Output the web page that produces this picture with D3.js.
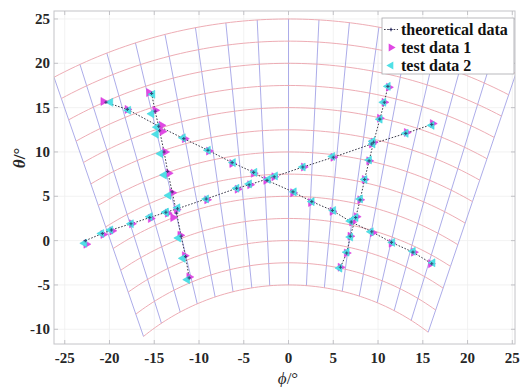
<!DOCTYPE html>
<html><head><meta charset="utf-8">
<script src="https://cdn.jsdelivr.net/npm/d3@7"></script>
<style>body{margin:0;background:#fff}svg{display:block}
.sf{font-family:'Liberation Serif','DejaVu Serif',serif}</style>
</head><body><svg id="c" width="520" height="387"></svg>
<script>
// ---------- tick labels ----------
const xTicks = [-25,-20,-15,-10,-5,0,5,10,15,20,25];
const yTicks = [-10,-5,0,5,10,15,20,25];

// ---------- background grid (arcs of constant level, fan lines) ----------
const arcTheta0 = [-5,-2.5,0,2.5,5,7.5,10,12.5,15,17.5,20,22.5,25];
const fanBottomPhi = [-16.2,-14.2,-12.1,-10.2,-8.2,-6.2,-4.1,-2.1,0,2.0,4.0,6.0,7.9,9.9,11.8,13.7,15.6];
const fanTopPhi = [-26.2,-23.3,-20.3,-17.1,-13.8,-10.4,-7.0,-3.5,0,3.4,6.8,10.1,13.4,16.6,19.7,22.6,25.4];
const arcCenterDepth = 30.5;

// ---------- theoretical data (4 scan lines) ----------
const theoA_phi = [-20.4,-18.0,-14.5,-11.7,-9.0,-6.3,-3.9,-2.4,0.5,2.6,4.9,7.0,9.3,11.5,13.9,16.0];
const theoA_theta = [15.6,14.8,12.9,11.5,10.2,8.8,7.7,6.8,5.5,4.4,3.4,2.1,1.0,-0.2,-1.3,-2.6];
const theoB_phi = [-22.7,-20.8,-19.8,-17.6,-15.5,-13.7,-12.4,-9.2,-5.8,-4.4,-1.6,1.6,5.0,9.3,13.1,16.0];
const theoB_theta = [0.0,0.8,1.2,1.9,2.6,3.2,3.6,4.7,5.9,6.3,7.2,8.3,9.4,10.9,12.1,13.1];
const theoC_phi = [-15.3,-14.9,-14.4,-13.9,-13.5,-13.0,-12.5,-12.0,-11.5,-11.1];
const theoC_theta = [16.6,14.6,12.4,10.0,7.8,5.5,3.1,0.5,-1.8,-4.2];
const theoD_phi = [11.1,10.7,10.2,9.5,9.0,8.5,8.0,7.5,6.9,6.5,5.8];
const theoD_theta = [17.4,15.6,13.7,11.1,9.0,6.9,4.6,2.6,0.5,-1.4,-3.0];

// ---------- test data 1 ----------
const t1A_phi = [-20.7,-18.0,-14.2,-11.6,-8.9,-6.3,-3.9,-2.5,0.5,2.5,4.9,7.1,9.4,11.5,14.0,15.9];
const t1A_theta = [15.7,14.8,13.0,11.5,10.1,8.7,7.6,6.8,5.4,4.3,3.3,2.1,0.9,-0.3,-1.3,-2.6];
const t1B_phi = [-22.6,-20.7,-19.7,-17.5,-15.4,-13.5,-12.5,-9.1,-5.7,-4.3,-1.6,1.7,5.0,9.3,13.2,16.1];
const t1B_theta = [-0.4,0.7,1.1,1.9,2.5,3.1,3.5,4.6,5.8,6.3,7.2,8.3,9.4,10.9,12.2,13.2];
const t1C_phi = [-15.6,-14.9,-14.1,-13.8,-13.4,-13.0,-12.9,-12.1,-11.6,-11.1];
const t1C_theta = [16.7,14.7,12.3,10.0,7.6,5.4,2.6,0.6,-1.7,-4.1];
const t1D_phi = [11.2,10.7,10.2,9.5,9.0,8.5,8.0,7.6,6.9,6.5,5.8];
const t1D_theta = [17.3,15.6,13.8,11.1,9.0,6.9,4.6,2.7,0.5,-1.4,-3.0];

// ---------- test data 2 ----------
const t2A_phi = [-19.9,-17.9,-14.7,-11.8,-9.0,-6.2,-3.8,-2.3,0.6,2.6,5.0,6.9,9.2,11.6,13.9,16.1];
const t2A_theta = [15.6,14.7,12.8,11.6,10.2,8.8,7.7,6.9,5.5,4.4,3.4,2.2,1.0,-0.2,-1.2,-2.5];
const t2B_phi = [-22.8,-20.9,-19.9,-17.6,-15.5,-13.7,-12.4,-9.2,-5.8,-4.4,-1.5,1.6,4.9,9.4,13.1,16.0];
const t2B_theta = [-0.3,0.8,1.2,1.9,2.7,3.2,3.7,4.7,5.9,6.4,7.3,8.3,9.5,10.9,12.1,13.0];
const t2C_phi = [-15.2,-15.3,-14.8,-14.3,-13.9,-13.4,-13.7,-12.3,-11.8,-11.3];
const t2C_theta = [16.5,14.3,12.0,9.8,7.4,5.1,3.2,0.3,-2.0,-4.4];
const t2D_phi = [11.1,10.6,10.2,9.4,9.0,8.5,8.0,7.5,6.9,6.5,5.7];
const t2D_theta = [17.4,15.6,13.7,11.2,9.1,6.9,4.7,2.6,0.4,-1.3,-3.1];

// =====================================================
const svg = d3.select('#c');
const L = 54, R = 515, T = 11, B = 344;
const x = d3.scaleLinear().domain([-26.2, 25.3]).range([L, R]);
const y = d3.scaleLinear().domain([-11.66, 25.9]).range([B, T]);

svg.append('rect').attr('x',0).attr('y',0).attr('width',520).attr('height',387).attr('fill','#fff');
svg.append('defs').append('clipPath').attr('id','clip')
  .append('rect').attr('x',L).attr('y',T).attr('width',R-L).attr('height',B-T);

// faint axis grid
const gGrid = svg.append('g');
gGrid.selectAll('.vx').data(xTicks).join('line')
  .attr('x1',d=>x(d)).attr('x2',d=>x(d)).attr('y1',T).attr('y2',B)
  .attr('stroke','#efefef').attr('stroke-width',0.8);
gGrid.selectAll('.hy').data(yTicks).join('line')
  .attr('y1',d=>y(d)).attr('y2',d=>y(d)).attr('x1',L).attr('x2',R)
  .attr('stroke','#efefef').attr('stroke-width',0.8);

// fan grid construction
const C = arcCenterDepth;
const nA = arcTheta0.length, nF = fanBottomPhi.length;
const radius = i => C + arcTheta0[i];
const arcY = (i, px) => -C + Math.sqrt(radius(i)*radius(i) - px*px);
const nodes = arcTheta0.map(()=>[]);
for (let k=0;k<nF;k++){
  const bx = fanBottomPhi[k], by = arcY(0,bx);
  const tx = fanTopPhi[k], ty = arcY(nA-1,tx);
  const dx = tx-bx, dy = ty-by;
  const fx = bx, fy = by + C;
  for (let i=0;i<nA;i++){
    const a = dx*dx+dy*dy, b = 2*(fx*dx+fy*dy), c = fx*fx+fy*fy-radius(i)*radius(i);
    const t = (-b + Math.sqrt(b*b-4*a*c))/(2*a);
    nodes[i][k] = [bx+t*dx, by+t*dy];
  }
}
const gFan = svg.append('g').attr('clip-path','url(#clip)');
const line = d3.line().x(d=>x(d[0])).y(d=>y(d[1]));
for (let k=0;k<nF;k++){
  gFan.append('path').attr('d', line(nodes.map(r=>r[k])))
    .attr('fill','none').attr('stroke','#a3a3e6').attr('stroke-width',0.9);
}
for (let i=0;i<nA;i++){
  const r = radius(i);
  const p0 = nodes[i][0], p1 = nodes[i][nF-1];
  const a0 = Math.atan2(p0[1]+C, p0[0]), a1 = Math.atan2(p1[1]+C, p1[0]);
  const pts = d3.range(0,81).map(j=>{const a=a0+(a1-a0)*j/80; return [r*Math.cos(a), -C+r*Math.sin(a)];});
  gFan.append('path').attr('d', line(pts))
    .attr('fill','none').attr('stroke','#eba3ab').attr('stroke-width',0.9);
}

// axes box and ticks
svg.append('rect').attr('x',L).attr('y',T).attr('width',R-L).attr('height',B-T)
  .attr('fill','none').attr('stroke','#c4c4c8').attr('stroke-width',1);
const gT = svg.append('g').attr('stroke','#b8b8bc').attr('stroke-width',0.8);
xTicks.forEach(v=>{
  gT.append('line').attr('x1',x(v)).attr('x2',x(v)).attr('y1',B).attr('y2',B-4);
  gT.append('line').attr('x1',x(v)).attr('x2',x(v)).attr('y1',T).attr('y2',T+4);
});
yTicks.forEach(v=>{
  gT.append('line').attr('y1',y(v)).attr('y2',y(v)).attr('x1',L).attr('x2',L+4);
  gT.append('line').attr('y1',y(v)).attr('y2',y(v)).attr('x1',R).attr('x2',R-4);
});
svg.append('g').selectAll('text').data(xTicks).join('text').attr('class','sf')
  .attr('x',d=>x(d)).attr('y',363).attr('text-anchor','middle')
  .attr('font-weight','bold').attr('font-size',15).attr('fill','#262626')
  .text(d=>d);
svg.append('g').selectAll('text').data(yTicks).join('text').attr('class','sf')
  .attr('x',50).attr('y',d=>y(d)+5).attr('text-anchor','end')
  .attr('font-weight','bold').attr('font-size',15).attr('fill','#262626')
  .text(d=>d);
// axis labels
const xl = svg.append('text').attr('class','sf').attr('x',288).attr('y',384).attr('text-anchor','middle')
  .attr('font-size',17).attr('fill','#262626');
xl.append('tspan').attr('font-style','italic').text('ϕ');
xl.append('tspan').text('/°');
const yl = svg.append('text').attr('class','sf').attr('transform','translate(25,158) rotate(-90)').attr('text-anchor','middle')
  .attr('font-size',17).attr('font-weight','bold').attr('fill','#262626');
yl.append('tspan').attr('font-style','italic').text('θ');
yl.append('tspan').text('/°');

// data
const gD = svg.append('g').attr('clip-path','url(#clip)');
const zip = (a,b)=>a.map((v,i)=>[v,b[i]]);
const theo = [zip(theoA_phi,theoA_theta), zip(theoB_phi,theoB_theta), zip(theoC_phi,theoC_theta), zip(theoD_phi,theoD_theta)];
const test1 = [].concat(zip(t1A_phi,t1A_theta), zip(t1B_phi,t1B_theta), zip(t1C_phi,t1C_theta), zip(t1D_phi,t1D_theta));
const test2 = [].concat(zip(t2A_phi,t2A_theta), zip(t2B_phi,t2B_theta), zip(t2C_phi,t2C_theta), zip(t2D_phi,t2D_theta));
theo.forEach(s=>{
  gD.append('path').attr('d', line(s)).attr('fill','none')
    .attr('stroke','#3a3a4a').attr('stroke-width',1).attr('stroke-dasharray','1.6,1.6');
});
const tri = d3.symbol().type(d3.symbolTriangle).size(28);
gD.selectAll('.t1').data(test1).join('path')
  .attr('d',tri).attr('transform',d=>`translate(${x(d[0])},${y(d[1])}) rotate(90)`)
  .attr('fill','#e048e4').attr('stroke','#d634da').attr('stroke-width',0.5);
gD.selectAll('.t2').data(test2).join('path')
  .attr('d',tri).attr('transform',d=>`translate(${x(d[0])},${y(d[1])}) rotate(-90)`)
  .attr('fill','#4fe0e6').attr('stroke','#38d2da').attr('stroke-width',0.5);
const plus = d3.symbol().type(d3.symbolCross).size(6);
gD.selectAll('.th').data(theo.flat()).join('path')
  .attr('d',plus).attr('transform',d=>`translate(${x(d[0])},${y(d[1])})`)
  .attr('fill','#2a2a60').attr('opacity',0.8);

// legend
const lg = svg.append('g');
lg.append('rect').attr('x',382).attr('y',18).attr('width',132).attr('height',56)
  .attr('fill','#fff').attr('stroke','#a8a8ac').attr('stroke-width',0.8);
lg.append('line').attr('x1',384).attr('x2',398).attr('y1',29.5).attr('y2',29.5)
  .attr('stroke','#3a3a4a').attr('stroke-dasharray','1.6,1.6');
lg.append('path').attr('d',plus).attr('transform','translate(391,29.5)').attr('fill','#2a2a60');
lg.append('path').attr('d',tri).attr('transform','translate(391,47.5) rotate(90)').attr('fill','#e048e4');
lg.append('path').attr('d',tri).attr('transform','translate(391,65.5) rotate(-90)').attr('fill','#4fe0e6');
const labels = ['theoretical data','test data 1','test data 2'];
lg.selectAll('.lt').data(labels).join('text').attr('class','sf')
  .attr('x',401).attr('y',(d,i)=>34.5+18*i)
  .attr('font-weight','bold').attr('font-size',16).attr('fill','#111')
  .text(d=>d);
</script></body></html>
